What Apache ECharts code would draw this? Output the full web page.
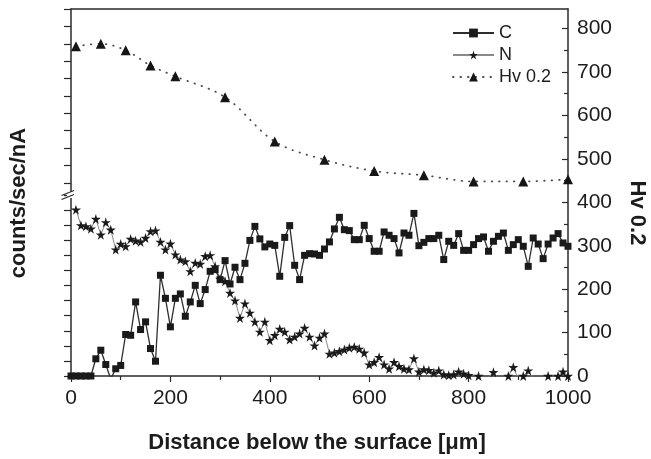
<!DOCTYPE html>
<html>
<head>
<meta charset="utf-8">
<script src="https://cdn.jsdelivr.net/npm/echarts@6/dist/echarts.min.js"></script>
<style>
html,body{margin:0;padding:0;background:#fff;}
#chart{width:651px;height:459px;}
</style>
</head>
<body>
<div id="chart"></div>
<script>
// Distance below the surface [µm]
var distance = [0,10,20,30,40,50,60,70,80,90,100,110,120,130,140,150,160,170,180,190,200,
  210,220,230,240,250,260,270,280,290,300,310,320,330,340,350,360,370,380,390,400,
  410,420,430,440,450,460,470,480,490,500,510,520,530,540,550,560,570,580,590,600,
  610,620,630,640,650,660,670,680,690,700,710,720,730,740,750,760,770,780,790,800,
  810,820,830,840,850,860,870,880,890,900,910,920,930,940,950,960,970,980,990,1000];
// C signal (counts/sec/nA, arbitrary units of left axis)
var cValues = [0,0,0,0,0,11.4,17.1,7.6,-2,4.8,7.0,27.5,27.0,49.1,30.8,35.9,18.2,9.8,66.8,51.5,32.6,
  51.5,54.4,39.6,49.1,60.1,48.0,57.3,69.4,70.5,63.9,76.5,61.0,72.1,63.9,74.7,89.9,99.2,90.9,85.6,87.5,
  86.6,66.1,91.9,99.7,73.4,63.9,80.0,81.1,80.9,80.0,84.2,88.9,97.5,105.2,97.0,96.4,90.4,90.4,99.9,91.1,
  82.7,82.7,95.5,93.3,91.1,81.6,94.8,93.3,107.8,86.4,88.6,91.1,91.1,93.3,77.2,89.3,86.6,94.4,83.3,83.3,
  87.1,91.1,92.2,82.7,89.3,92.6,94.8,83.3,87.1,90.4,86.0,72.7,91.5,87.5,77.8,87.5,91.5,94.4,88.2,86];
// N signal
var nValues = [null,110.3,99.9,99.2,97.7,104.1,93.7,101.9,97.0,83.8,87.5,86.0,90.9,89.7,88.9,91.5,95.9,96.4,88.9,83.8,87.7,
  80.5,77.2,76.0,69.4,75.0,74.3,79.4,80.0,72.7,64.4,62.8,55.1,50.0,38.5,48.0,41.9,35.9,29.3,35.9,23.7,
  27.0,31.2,29.3,24.2,26.0,28.1,31.9,26.0,20.2,25.3,28.1,14.7,15.4,16.4,17.5,18.7,19.3,18.0,15.4,7.6,
  9.1,12.5,7.6,4.8,9.1,6.5,4.8,4.3,11.6,2.8,4.3,3.8,2.1,3.6,1.0,0.5,1.0,2.8,1.5,0.5,
  -2,0,-2,-1,2.5,-2,-2,0,5.8,-2,0,3.6,-2,-1,-2,0,-2,0,2.8,0];
// Hardness Hv 0.2
var hvDistance = [10,60,110,160,210,310,410,510,610,710,810,910,1000];
var hvValues = [759,765,750,715,690,642,540,498,472,462,448,448,453];

var xTicks = {min:0, max:1000, interval:200};
var hvTicks = {min:0, max:845, interval:100};
var hvTickValues = [0,100,200,300,400,500,600,700,800];

function pairs(xs, ys){ var out=[]; for (var i=0;i<xs.length;i++){ out.push([xs[i], ys[i]]); } return out; }

var FONT = "'Liberation Sans', Arial, Helvetica, sans-serif";
var AX = '#2a2a2a';
var STAR = 'path://M50,0 L61,35 L98,35 L68,57 L79,91 L50,70 L21,91 L32,57 L2,35 L39,35 Z';

var chart = echarts.init(document.getElementById('chart'), null, {renderer:'canvas'});
var option = {
  animation:false,
  backgroundColor:'#fff',
  textStyle:{fontFamily:FONT},
  grid:[
    {left:71, right:83, top:9, bottom:83},
    {left:71, right:83, top:195, bottom:83},
    {left:71, right:83, top:9, height:186}
  ],
  xAxis:[
    {gridIndex:0, type:'value', position:'bottom', min:xTicks.min, max:xTicks.max, interval:xTicks.interval,
     axisLine:{show:true, onZero:false, lineStyle:{color:AX, width:1.5}},
     axisTick:{show:true, inside:false, length:6, lineStyle:{color:AX, width:1.2}},
     minorTick:{show:true, splitNumber:2, length:4, lineStyle:{color:AX, width:1.2}},
     axisLabel:{show:true, margin:12, fontSize:21, color:'#1c1c1c', fontFamily:FONT,
       formatter:function(v){ return String(v); }},
     splitLine:{show:false}},
    {gridIndex:0, type:'value', position:'top', min:xTicks.min, max:xTicks.max,
     axisLine:{show:true, onZero:false, lineStyle:{color:AX, width:1.5}},
     axisTick:{show:false}, axisLabel:{show:false}, splitLine:{show:false}},
    {gridIndex:1, type:'value', min:xTicks.min, max:xTicks.max, show:false},
    {gridIndex:2, type:'value', min:xTicks.min, max:xTicks.max, show:false}
  ],
  yAxis:[
    {gridIndex:0, type:'value', position:'right', min:hvTicks.min, max:hvTicks.max, interval:hvTicks.interval,
     axisLine:{show:true, onZero:false, lineStyle:{color:AX, width:1.5}},
     axisTick:{show:true, inside:true, length:6, lineStyle:{color:AX, width:1.2}, customValues:hvTickValues},
     minorTick:{show:true, splitNumber:2, length:4, lineStyle:{color:AX, width:1.2}},
     axisLabel:{show:true, margin:9, fontSize:21, color:'#1c1c1c', fontFamily:FONT, customValues:hvTickValues,
       formatter:function(v){ return String(v); }},
     splitLine:{show:false}},
    {gridIndex:1, type:'value', position:'left', min:0, max:120, interval:10,
     axisLine:{show:true, onZero:false, lineStyle:{color:AX, width:1.5}},
     axisTick:{show:true, inside:false, length:7, lineStyle:{color:AX, width:1.2}},
     axisLabel:{show:false}, splitLine:{show:false}},
    {gridIndex:2, type:'value', position:'left', inverse:true, min:0, max:107, interval:10,
     axisLine:{show:true, onZero:false, lineStyle:{color:AX, width:1.5}},
     axisTick:{show:true, inside:false, length:7, lineStyle:{color:AX, width:1.2}},
     axisLabel:{show:false}, splitLine:{show:false}}
  ],
  legend:{
    orient:'vertical', left:447, top:19, itemWidth:41, itemHeight:11, itemGap:4,
    textStyle:{fontSize:18, color:'#1c1c1c', fontFamily:FONT},
    data:['C','N','Hv 0.2']
  },
  series:[
    {name:'C', type:'line', xAxisIndex:2, yAxisIndex:1, data:pairs(distance, cValues),
     symbol:'rect', symbolSize:7, showAllSymbol:true,
     itemStyle:{color:'#1a1a1a'}, lineStyle:{color:'#2e2e2e', width:1.3}, z:3},
    {name:'N', type:'line', xAxisIndex:2, yAxisIndex:1, data:pairs(distance, nValues),
     symbol:STAR, symbolSize:10, showAllSymbol:true, connectNulls:false,
     itemStyle:{color:'#1a1a1a'}, lineStyle:{color:'#8a8a8a', width:1}, z:2},
    {name:'Hv 0.2', type:'line', xAxisIndex:0, yAxisIndex:0, data:pairs(hvDistance, hvValues),
     symbol:'triangle', symbolSize:10, smooth:0.35,
     itemStyle:{color:'#151515'}, lineStyle:{color:'#4a4a4a', width:1.8, type:[0.5,7], cap:'round'}, z:2}
  ],
  graphic:[
    {type:'rect', shape:{x:67, y:191.5, width:8, height:6.5}, style:{fill:'#fff'}, z:100},
    {type:'line', shape:{x1:61.5, y1:195.5, x2:74, y2:190.5}, style:{stroke:AX, lineWidth:1.3}, z:101},
    {type:'line', shape:{x1:61.5, y1:199.5, x2:74, y2:194.5}, style:{stroke:AX, lineWidth:1.3}, z:101},
    {type:'text', x:19, y:203, rotation:Math.PI/2,
     style:{text:'counts/sec/nA', font:'bold 22px ' + FONT, fill:'#1c1c1c', textAlign:'center', textVerticalAlign:'middle'}, z:100},
    {type:'text', x:637, y:213, rotation:-Math.PI/2,
     style:{text:'Hv 0.2', font:'bold 22px ' + FONT, fill:'#1c1c1c', textAlign:'center', textVerticalAlign:'middle'}, z:100},
    {type:'text', x:317, y:443,
     style:{text:'Distance below the surface [\u03bcm]', font:'bold 22px ' + FONT, fill:'#1c1c1c', textAlign:'center', textVerticalAlign:'middle'}, z:100}
  ]
};
chart.setOption(option);
</script>
</body>
</html>
